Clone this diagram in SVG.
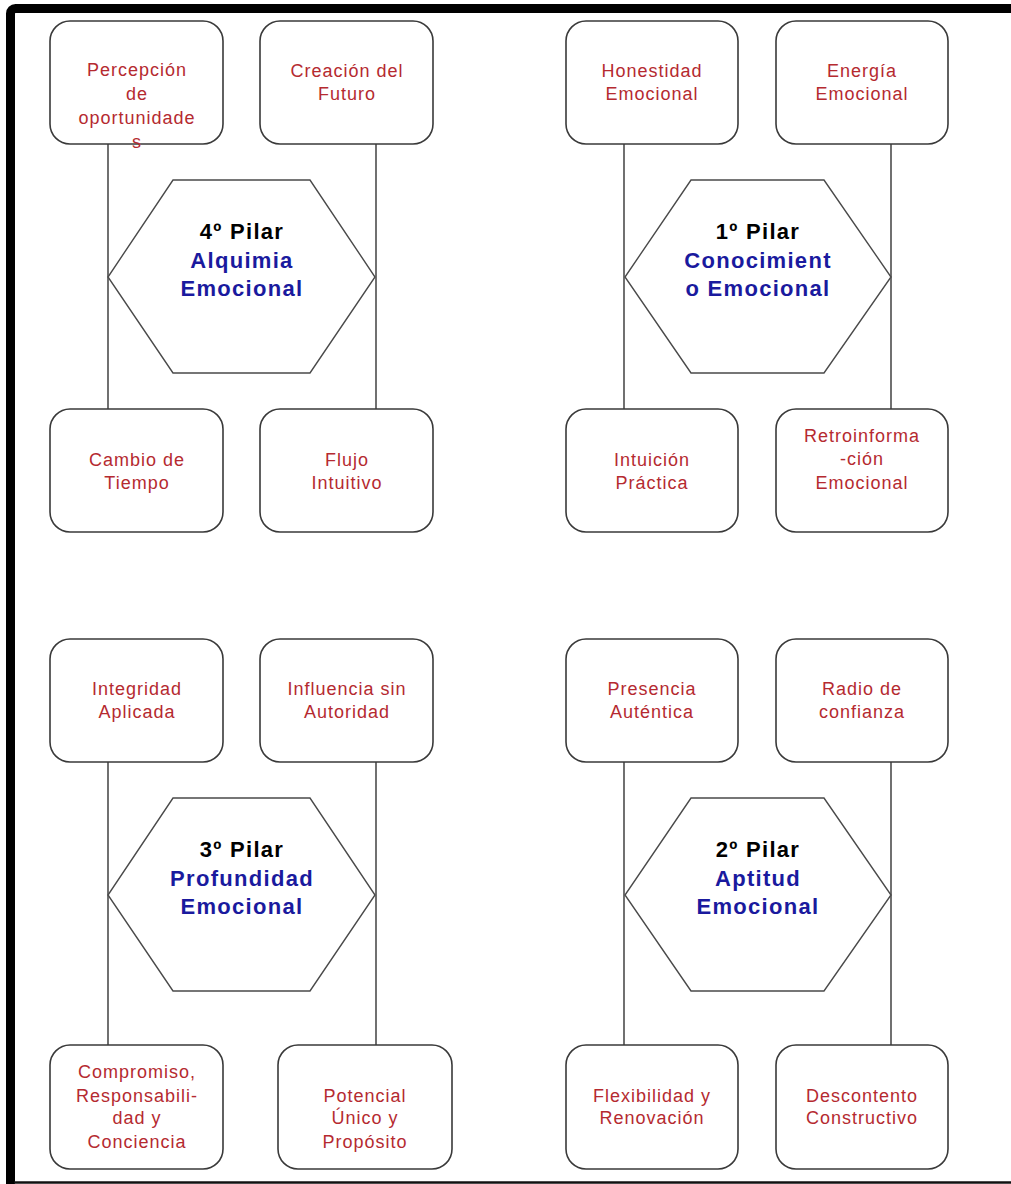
<svg xmlns="http://www.w3.org/2000/svg" width="1011" height="1184" viewBox="0 0 1011 1184">
<style>
.box{fill:#fff;stroke:#3a3a3a;stroke-width:1.6}
.hex{fill:#fff;stroke:#4a4a4a;stroke-width:1.4}
.ln{stroke:#111;stroke-width:1.2;fill:none}
.t{font-family:"Liberation Sans",Arial,sans-serif;font-size:18px;fill:#b52a30;text-anchor:middle;letter-spacing:1px}
.h{font-family:"Liberation Sans",Arial,sans-serif;font-size:22px;font-weight:bold;text-anchor:middle;letter-spacing:1.3px}
.k{fill:#000}
.b{fill:#1a1a9e}
</style>
<rect width="1011" height="1184" fill="#fff"/>
<g id="frame">
<path d="M10.5 1184 V13.5 a5 5 0 0 1 5 -5 H1011" fill="none" stroke="#000" stroke-width="9"/>
<line x1="14" y1="1182.5" x2="1011" y2="1182.5" stroke="#111" stroke-width="2.5"/>
</g>
<g id="connectors">
<line class="ln" x1="108" y1="144" x2="108" y2="409"/>
<line class="ln" x1="376" y1="144" x2="376" y2="409"/>
<line class="ln" x1="624" y1="144" x2="624" y2="409"/>
<line class="ln" x1="891" y1="144" x2="891" y2="409"/>
<line class="ln" x1="108" y1="762" x2="108" y2="1045"/>
<line class="ln" x1="376" y1="762" x2="376" y2="1045"/>
<line class="ln" x1="624" y1="762" x2="624" y2="1045"/>
<line class="ln" x1="891" y1="762" x2="891" y2="1045"/>
</g>
<g id="n-percepcion"><rect class="box" x="50" y="21" width="173" height="123" rx="20"/>
<text class="t" x="137" y="76">Percepción</text><text class="t" x="137" y="100">de</text><text class="t" x="137" y="124">oportunidade</text><text class="t" x="137" y="148">s</text></g>
<g id="n-creacion"><rect class="box" x="260" y="21" width="173" height="123" rx="20"/>
<text class="t" x="347" y="77">Creación del</text><text class="t" x="347" y="100">Futuro</text></g>
<g id="n-cambio"><rect class="box" x="50" y="409" width="173" height="123" rx="20"/>
<text class="t" x="137" y="466">Cambio de</text><text class="t" x="137" y="489">Tiempo</text></g>
<g id="n-flujo"><rect class="box" x="260" y="409" width="173" height="123" rx="20"/>
<text class="t" x="347" y="466">Flujo</text><text class="t" x="347" y="489">Intuitivo</text></g>
<g id="p4"><polygon class="hex" points="173,180 310,180 375,277 310,373 173,373 108,277"/>
<text class="h k" x="242" y="239">4º Pilar</text><text class="h b" x="242" y="268">Alquimia</text><text class="h b" x="242" y="296">Emocional</text></g>

<g id="n-honestidad"><rect class="box" x="566" y="21" width="172" height="123" rx="20"/>
<text class="t" x="652" y="77">Honestidad</text><text class="t" x="652" y="100">Emocional</text></g>
<g id="n-energia"><rect class="box" x="776" y="21" width="172" height="123" rx="20"/>
<text class="t" x="862" y="77">Energía</text><text class="t" x="862" y="100">Emocional</text></g>
<g id="n-intuicion"><rect class="box" x="566" y="409" width="172" height="123" rx="20"/>
<text class="t" x="652" y="466">Intuición</text><text class="t" x="652" y="489">Práctica</text></g>
<g id="n-retro"><rect class="box" x="776" y="409" width="172" height="123" rx="20"/>
<text class="t" x="862" y="442">Retroinforma</text><text class="t" x="862" y="465">-ción</text><text class="t" x="862" y="489">Emocional</text></g>
<g id="p1"><polygon class="hex" points="691,180 824,180 891,277 824,373 691,373 625,277"/>
<text class="h k" x="758" y="239">1º Pilar</text><text class="h b" x="758" y="268">Conocimient</text><text class="h b" x="758" y="296">o Emocional</text></g>

<g id="n-integridad"><rect class="box" x="50" y="639" width="173" height="123" rx="20"/>
<text class="t" x="137" y="695">Integridad</text><text class="t" x="137" y="718">Aplicada</text></g>
<g id="n-influencia"><rect class="box" x="260" y="639" width="173" height="123" rx="20"/>
<text class="t" x="347" y="695">Influencia sin</text><text class="t" x="347" y="718">Autoridad</text></g>
<g id="n-compromiso"><rect class="box" x="50" y="1045" width="173" height="124" rx="20"/>
<text class="t" x="137" y="1078">Compromiso,</text><text class="t" x="137" y="1102">Responsabili-</text><text class="t" x="137" y="1124">dad y</text><text class="t" x="137" y="1148">Conciencia</text></g>
<g id="n-potencial"><rect class="box" x="278" y="1045" width="174" height="124" rx="20"/>
<text class="t" x="365" y="1102">Potencial</text><text class="t" x="365" y="1124">Único y</text><text class="t" x="365" y="1148">Propósito</text></g>
<g id="p3"><polygon class="hex" points="173,798 310,798 375,895 310,991 173,991 108,895"/>
<text class="h k" x="242" y="857">3º Pilar</text><text class="h b" x="242" y="886">Profundidad</text><text class="h b" x="242" y="914">Emocional</text></g>

<g id="n-presencia"><rect class="box" x="566" y="639" width="172" height="123" rx="20"/>
<text class="t" x="652" y="695">Presencia</text><text class="t" x="652" y="718">Auténtica</text></g>
<g id="n-radio"><rect class="box" x="776" y="639" width="172" height="123" rx="20"/>
<text class="t" x="862" y="695">Radio de</text><text class="t" x="862" y="718">confianza</text></g>
<g id="n-flexibilidad"><rect class="box" x="566" y="1045" width="172" height="124" rx="20"/>
<text class="t" x="652" y="1102">Flexibilidad y</text><text class="t" x="652" y="1124">Renovación</text></g>
<g id="n-descontento"><rect class="box" x="776" y="1045" width="172" height="124" rx="20"/>
<text class="t" x="862" y="1102">Descontento</text><text class="t" x="862" y="1124">Constructivo</text></g>
<g id="p2"><polygon class="hex" points="691,798 824,798 891,895 824,991 691,991 625,895"/>
<text class="h k" x="758" y="857">2º Pilar</text><text class="h b" x="758" y="886">Aptitud</text><text class="h b" x="758" y="914">Emocional</text></g>
</svg>
